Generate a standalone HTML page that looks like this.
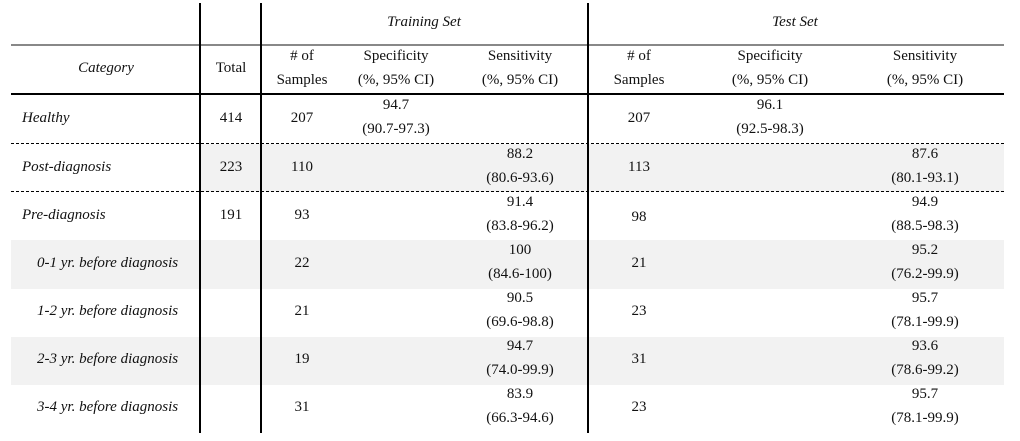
<!DOCTYPE html>
<html><head><style>
body{margin:0;width:1020px;height:441px;background:#fff;position:relative;overflow:hidden;font-family:"Liberation Serif",serif;font-size:15px;color:#111}
.t{position:absolute;transform:translate(-50%,-40%);white-space:nowrap;line-height:1}
.l{position:absolute;transform:translateY(-40%);white-space:nowrap;line-height:1;font-style:italic}
.i{font-style:italic}
.r{position:absolute}
</style></head><body>
<div class="r" style="left:200px;top:144px;width:804px;height:48px;background:#f2f2f2"></div>
<div class="r" style="left:11px;top:240px;width:993px;height:49px;background:#f2f2f2"></div>
<div class="r" style="left:11px;top:337px;width:993px;height:48px;background:#f2f2f2"></div>
<div class="r" style="left:11px;top:44px;width:993px;height:2px;background:#888"></div>
<div class="r" style="left:11px;top:93px;width:993px;height:2px;background:#000"></div>
<div class="r" style="left:11px;top:143px;width:993px;border-top:1px dashed #000"></div>
<div class="r" style="left:11px;top:191px;width:993px;border-top:1px dashed #000"></div>
<div class="r" style="left:199px;top:3px;width:2px;height:430px;background:#000"></div>
<div class="r" style="left:260px;top:3px;width:2px;height:430px;background:#000"></div>
<div class="r" style="left:587px;top:3px;width:2px;height:430px;background:#000"></div>

<div class="t i" style="left:424px;top:21px">Training Set</div>
<div class="t i" style="left:795px;top:21px">Test Set</div>
<div class="t i" style="left:106px;top:67px">Category</div>
<div class="t" style="left:231px;top:67px">Total</div>
<div class="t" style="left:302px;top:55px">#&nbsp;of</div><div class="t" style="left:302px;top:79px">Samples</div>
<div class="t" style="left:396px;top:55px">Specificity</div><div class="t" style="left:396px;top:79px">(%, 95% CI)</div>
<div class="t" style="left:520px;top:55px">Sensitivity</div><div class="t" style="left:520px;top:79px">(%, 95% CI)</div>
<div class="t" style="left:639px;top:55px">#&nbsp;of</div><div class="t" style="left:639px;top:79px">Samples</div>
<div class="t" style="left:770px;top:55px">Specificity</div><div class="t" style="left:770px;top:79px">(%, 95% CI)</div>
<div class="t" style="left:925px;top:55px">Sensitivity</div><div class="t" style="left:925px;top:79px">(%, 95% CI)</div>

<div class="l" style="left:22px;top:117px">Healthy</div>
<div class="t" style="left:231px;top:117px">414</div>
<div class="t" style="left:302px;top:117px">207</div>
<div class="t" style="left:396px;top:104px">94.7</div><div class="t" style="left:396px;top:128px">(90.7-97.3)</div>
<div class="t" style="left:639px;top:117px">207</div>
<div class="t" style="left:770px;top:104px">96.1</div><div class="t" style="left:770px;top:128px">(92.5-98.3)</div>

<div class="l" style="left:22px;top:166px">Post-diagnosis</div>
<div class="t" style="left:231px;top:166px">223</div>
<div class="t" style="left:302px;top:166px">110</div>
<div class="t" style="left:520px;top:153px">88.2</div><div class="t" style="left:520px;top:177px">(80.6-93.6)</div>
<div class="t" style="left:639px;top:166px">113</div>
<div class="t" style="left:925px;top:153px">87.6</div><div class="t" style="left:925px;top:177px">(80.1-93.1)</div>

<div class="l" style="left:22px;top:214px">Pre-diagnosis</div>
<div class="t" style="left:231px;top:214px">191</div>
<div class="t" style="left:302px;top:214px">93</div>
<div class="t" style="left:520px;top:201px">91.4</div><div class="t" style="left:520px;top:225px">(83.8-96.2)</div>
<div class="t" style="left:639px;top:216px">98</div>
<div class="t" style="left:925px;top:201px">94.9</div><div class="t" style="left:925px;top:225px">(88.5-98.3)</div>

<div class="l" style="left:37px;top:262px">0-1 yr. before diagnosis</div>
<div class="t" style="left:302px;top:262px">22</div>
<div class="t" style="left:520px;top:249px">100</div><div class="t" style="left:520px;top:273px">(84.6-100)</div>
<div class="t" style="left:639px;top:262px">21</div>
<div class="t" style="left:925px;top:249px">95.2</div><div class="t" style="left:925px;top:273px">(76.2-99.9)</div>

<div class="l" style="left:37px;top:310px">1-2 yr. before diagnosis</div>
<div class="t" style="left:302px;top:310px">21</div>
<div class="t" style="left:520px;top:297px">90.5</div><div class="t" style="left:520px;top:321px">(69.6-98.8)</div>
<div class="t" style="left:639px;top:310px">23</div>
<div class="t" style="left:925px;top:297px">95.7</div><div class="t" style="left:925px;top:321px">(78.1-99.9)</div>

<div class="l" style="left:37px;top:358px">2-3 yr. before diagnosis</div>
<div class="t" style="left:302px;top:358px">19</div>
<div class="t" style="left:520px;top:345px">94.7</div><div class="t" style="left:520px;top:369px">(74.0-99.9)</div>
<div class="t" style="left:639px;top:358px">31</div>
<div class="t" style="left:925px;top:345px">93.6</div><div class="t" style="left:925px;top:369px">(78.6-99.2)</div>

<div class="l" style="left:37px;top:406px">3-4 yr. before diagnosis</div>
<div class="t" style="left:302px;top:406px">31</div>
<div class="t" style="left:520px;top:393px">83.9</div><div class="t" style="left:520px;top:417px">(66.3-94.6)</div>
<div class="t" style="left:639px;top:406px">23</div>
<div class="t" style="left:925px;top:393px">95.7</div><div class="t" style="left:925px;top:417px">(78.1-99.9)</div>
</body></html>
